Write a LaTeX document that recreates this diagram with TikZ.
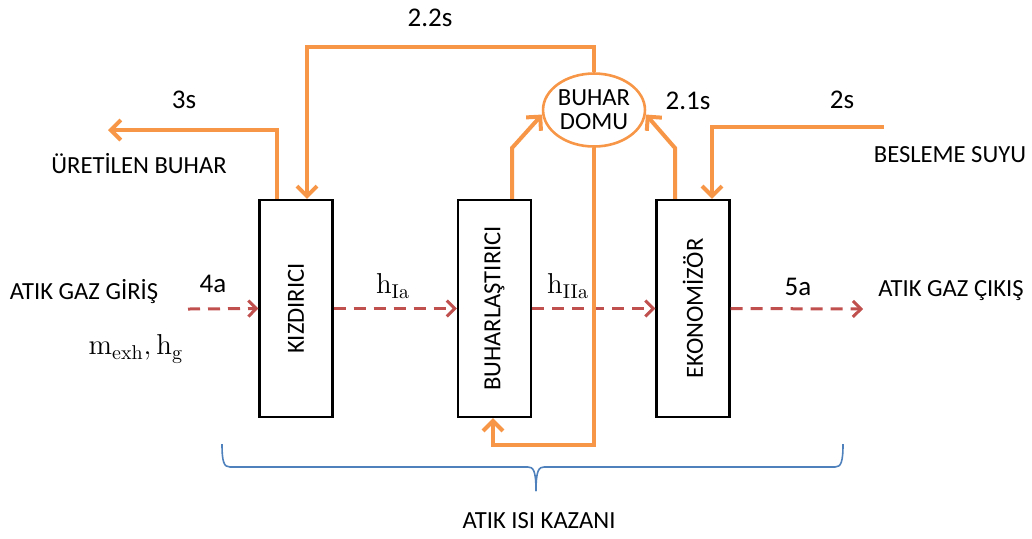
\documentclass[tikz,border=0pt]{standalone}
\usepackage[no-math]{fontspec}
\setmainfont{Carlito}
\usetikzlibrary{arrows.meta,shapes.geometric}
\definecolor{steamorange}{HTML}{F79646}
\definecolor{gasred}{HTML}{C0504D}
\definecolor{braceblue}{HTML}{4F81BD}
\begin{document}
\begin{tikzpicture}[x=0.5pt,y=-0.5pt,
  font=\fontsize{12.3}{14}\selectfont,
  unit/.style={draw=black,line width=1.1pt,minimum width=36.5pt,minimum height=108.5pt,inner sep=0pt},
  unitname/.style={rotate=90,inner sep=0pt},
  steam/.style={draw=steamorange,line width=2pt,-{Straight Barb[length=5pt,width=10pt]}},
  gas/.style={draw=gasred,line width=1.5pt,dash pattern=on 6pt off 4pt,-{Straight Barb[length=4pt,width=8pt]}},
  numlabel/.style={font=\fontsize{13.5}{16}\selectfont,inner sep=0pt},
  txt/.style={inner sep=0pt},
  mathlabel/.style={inner sep=0pt,font=\fontsize{14}{16}\selectfont}]
\useasboundingbox (0,0) rectangle (1032,538);

% heat exchanger sections
\node[unit] (kiz) at (296,308.5) {};
\node[unitname] (kizt) at (kiz) {KIZDIRICI};
\node[unit] (evap) at (494.5,308.5) {};
\node[unitname] (evapt) at (evap) {BUHARLAŞTIRICI};
\node[unit] (econ) at (693,308.5) {};
\node[unitname] (econt) at (econ) {EKONOMİZÖR};

% steam drum
\node[draw=steamorange,line width=1.3pt,ellipse,minimum width=41.5pt,minimum height=36.5pt,inner sep=0pt,align=center] (drum) at (594,110) {BUHAR\\[-2pt]DOMU};

% exhaust gas path
\coordinate (gasin) at (188,309);
\coordinate (gasout) at (863,309);
\draw[gas] (gasin) -- (kiz.west);
\draw[gas] (kiz.east) -- (evap.west);
\draw[gas] (evap.east) -- (econ.west);
\draw[gas] (econ.east) -- (gasout);

% water / steam circuit
\coordinate (steamout) at (108,130);
\coordinate (topL) at (307,47);
\coordinate (dcb) at (493,445);
\coordinate (feed) at (884,127);
\coordinate (evapup) at (512,148);
\coordinate (econup) at (675,148);
\draw[steam] ([xshift=-9.5pt]kiz.north) |- (steamout);
\draw[steam] (drum.north) |- (topL) -- (topL |- kiz.north);
\draw[steam] (evapup |- evap.north) -- (evapup) -- (drum.185);
\draw[steam] (econup |- econ.north) -- (econup) -- (drum.355);
\draw[steam] (drum.south) |- (dcb) -- (dcb |- evap.south);
\draw[steam] (feed) -| ([xshift=9.5pt]econ.north);

% labels
\node[numlabel] (l22) at (430,18) {2.2s};
\node[numlabel] (l3) at (184,100) {3s};
\node[numlabel] (l21) at (688,101) {2.1s};
\node[numlabel] (l2) at (842,100) {2s};
\node[numlabel] (l4a) at (213,284) {4a};
\node[numlabel] (l5a) at (798,287) {5a};
\node[txt] (prod) at (139,164) {ÜRETİLEN BUHAR};
\node[txt] (feedt) at (950,155) {BESLEME SUYU};
\node[txt] (gin) at (84,292) {ATIK GAZ GİRİŞ};
\node[txt] (gout) at (951,291) {ATIK GAZ ÇIKIŞ};
\node[mathlabel] (mh) at (136,349) {$\mathrm{m}_{\mathrm{exh}},\mathrm{h}_{\mathrm{g}}$};
\node[mathlabel] (h1) at (393,286) {$\mathrm{h}_{\mathrm{Ia}}$};
\node[mathlabel] (h2) at (568,286) {$\mathrm{h}_{\mathrm{IIa}}$};

% boiler brace
\coordinate (brL) at (222,444);
\coordinate (brR) at (843,444);
\coordinate (brM) at (536,491);
\draw[braceblue,line width=0.8pt] (brL) .. controls (222,462) and (224,467) .. (230,467)
  -- (528,467) .. controls (533,467) and (536,470) .. (brM);
\draw[braceblue,line width=0.8pt] (brR) .. controls (843,462) and (841,467) .. (835,467)
  -- (544,467) .. controls (539,467) and (536,470) .. (brM);
\node[txt] (boiler) at (539,521) {ATIK ISI KAZANI};
\end{tikzpicture}
\end{document}
